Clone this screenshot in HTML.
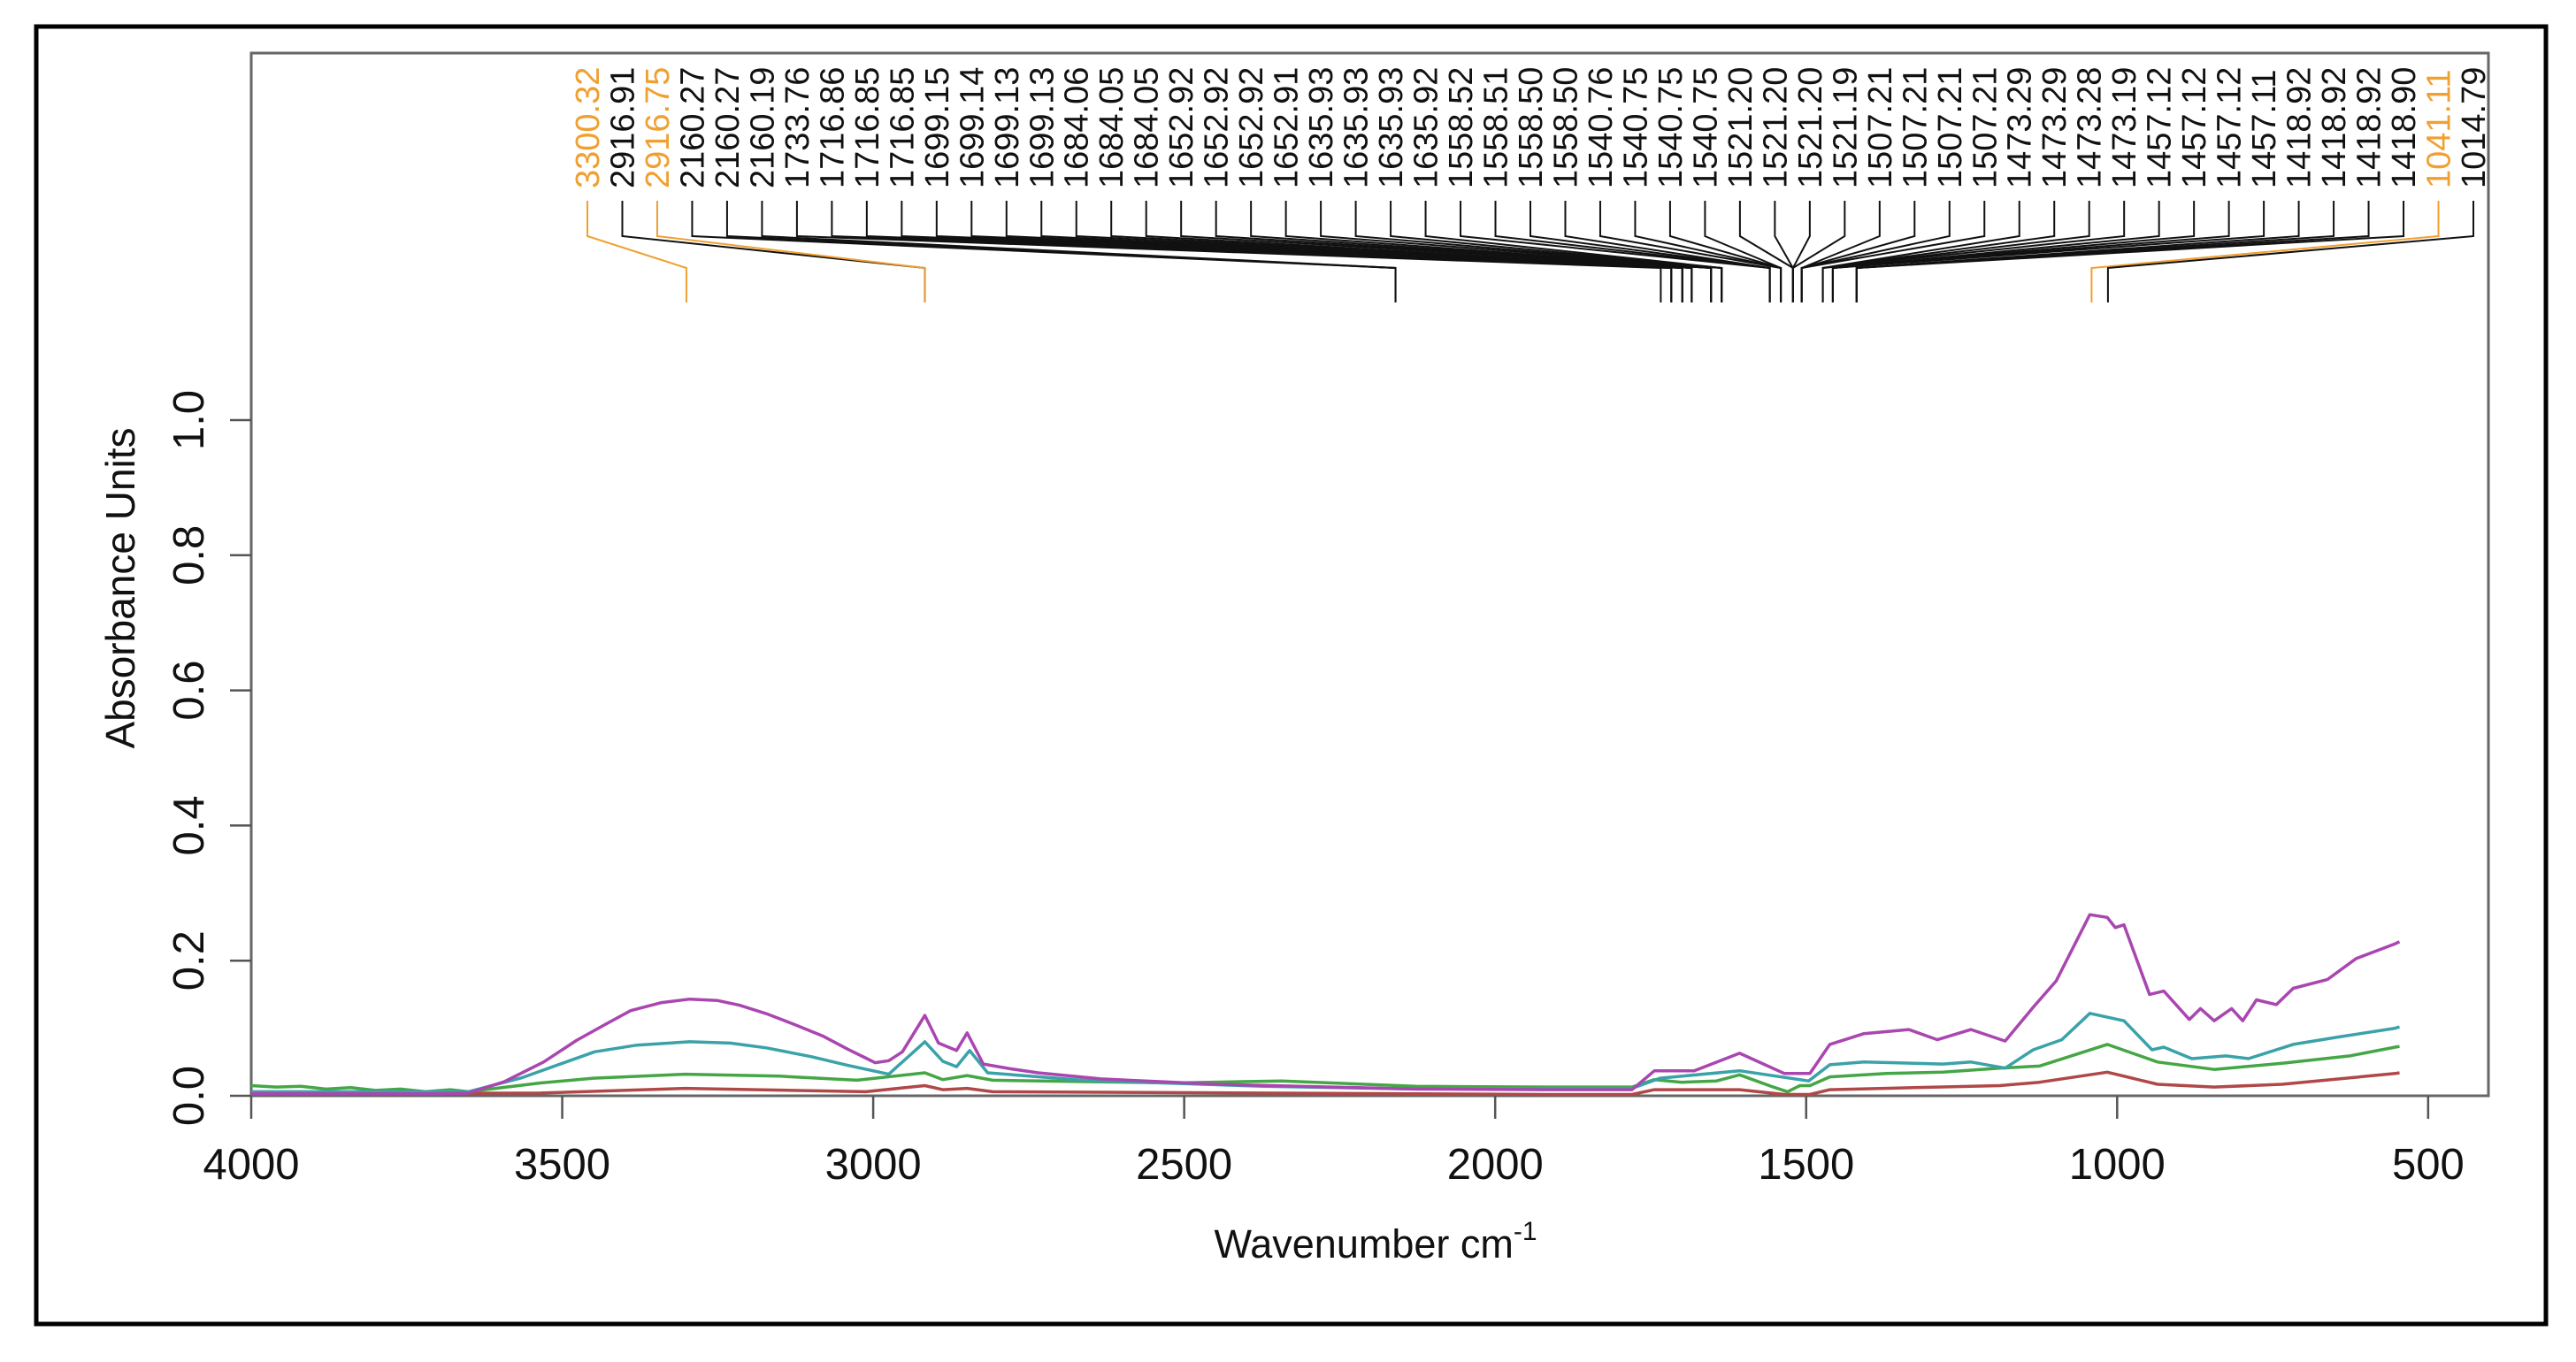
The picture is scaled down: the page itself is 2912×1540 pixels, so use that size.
<!DOCTYPE html>
<html><head><meta charset="utf-8"><style>
html,body{margin:0;padding:0;background:#fff;}
svg{display:block;font-family:"Liberation Sans",Arial,sans-serif;}
</style></head><body>
<svg id="chart" width="2912" height="1540" viewBox="0 0 2912 1540">
<rect x="41" y="30" width="2837" height="1467" fill="none" stroke="#000" stroke-width="5"/>
<g id="plot"></g>
</svg>
<script>
// ---- data ----
const peakLabels = ["3300.32","2916.91","2916.75","2160.27","2160.27","2160.19","1733.76","1716.86","1716.85","1716.85","1699.15","1699.14","1699.13","1699.13","1684.06","1684.05","1684.05","1652.92","1652.92","1652.92","1652.91","1635.93","1635.93","1635.93","1635.92","1558.52","1558.51","1558.50","1558.50","1540.76","1540.75","1540.75","1540.75","1521.20","1521.20","1521.20","1521.19","1507.21","1507.21","1507.21","1507.21","1473.29","1473.29","1473.28","1473.19","1457.12","1457.12","1457.12","1457.11","1418.92","1418.92","1418.92","1418.90","1041.11","1014.79"];
const highlightedPeaks = ["3300.32","2916.75","1041.11"];
const xTicks = [4000,3500,3000,2500,2000,1500,1000,500];
const yTicks = [0.0,0.2,0.4,0.6,0.8,1.0];

const purpleWn = [4000,3900,3800,3700,3651,3593,3530,3477,3430,3390,3340,3295,3250,3215,3170,3128,3080,3041,3010,2997,2975,2953,2917,2895,2866,2849,2823,2780,2735,2634,2445,2128,1916,1780,1744,1680,1607,1535,1494,1462,1407,1335,1289,1235,1180,1135,1098,1044,1016,1003,989,948,925,884,866,844,816,798,776,744,717,662,616,553,546];
const purpleAbs = [0.003,0.003,0.003,0.003,0.004,0.021,0.050,0.082,0.106,0.126,0.138,0.143,0.141,0.134,0.121,0.106,0.088,0.069,0.055,0.049,0.052,0.065,0.119,0.078,0.067,0.093,0.047,0.040,0.034,0.025,0.017,0.010,0.009,0.009,0.037,0.037,0.063,0.033,0.033,0.076,0.092,0.098,0.083,0.098,0.081,0.131,0.170,0.268,0.264,0.249,0.253,0.150,0.155,0.113,0.129,0.111,0.129,0.111,0.142,0.135,0.159,0.172,0.203,0.225,0.228];

const tealWn = [4000,3800,3651,3564,3500,3448,3380,3295,3230,3172,3100,3041,2975,2917,2888,2866,2845,2816,2663,2372,2128,1916,1780,1735,1607,1496,1462,1407,1280,1235,1180,1135,1089,1044,989,944,925,880,825,789,717,644,553,546];
const tealAbs = [0.006,0.006,0.006,0.027,0.048,0.065,0.075,0.080,0.078,0.071,0.058,0.045,0.032,0.080,0.051,0.043,0.067,0.034,0.023,0.014,0.010,0.011,0.011,0.026,0.037,0.022,0.046,0.050,0.047,0.050,0.041,0.068,0.083,0.122,0.111,0.068,0.072,0.055,0.059,0.055,0.076,0.087,0.100,0.102];

const greenWn = [4000,3960,3920,3880,3840,3800,3760,3720,3680,3651,3535,3450,3302,3150,3026,2917,2888,2849,2808,2517,2343,2128,1916,1780,1744,1700,1644,1607,1553,1530,1510,1494,1462,1371,1280,1189,1125,1016,935,844,735,626,553,546];
const greenAbs = [0.015,0.013,0.014,0.010,0.012,0.008,0.010,0.006,0.009,0.006,0.019,0.026,0.032,0.029,0.023,0.034,0.024,0.030,0.023,0.019,0.022,0.014,0.013,0.013,0.024,0.020,0.022,0.031,0.013,0.006,0.015,0.015,0.028,0.033,0.035,0.041,0.044,0.076,0.050,0.039,0.048,0.059,0.072,0.073];

const redWn = [4000,3535,3302,3012,2917,2888,2849,2808,2128,1916,1780,1744,1607,1535,1494,1462,1189,1125,1016,935,844,735,553,546];
const redAbs = [0.003,0.004,0.011,0.006,0.015,0.009,0.011,0.006,0.003,0.002,0.002,0.009,0.009,0.002,0.002,0.009,0.015,0.020,0.035,0.017,0.013,0.017,0.033,0.034];

// ---- layout ----
const X0 = 284, X1 = 2813, Y0 = 60, Y1 = 1239;
function xs(w){ return X0 + (4000 - w) * 0.7031; }
function ys(a){ return Y1 - a * 764; }
const NS = "http://www.w3.org/2000/svg";
const g = document.getElementById('plot');
function mk(tag, attrs, parent){
  const e = document.createElementNS(NS, tag);
  for (const k in attrs) e.setAttribute(k, attrs[k]);
  (parent || g).appendChild(e);
  return e;
}

const box = mk('rect', {x:X0, y:Y0, width:X1-X0, height:Y1-Y0, fill:'none', stroke:'#666', 'stroke-width':3});



const xAxis = mk('g', {});


xTicks.forEach(v => {
  const t = mk('line', {x1:xs(v), x2:xs(v), y1:Y1, y2:Y1+26, stroke:'#555', 'stroke-width':2.5}, xAxis);
  
  
  const l = mk('text', {x:xs(v), y:1333, 'text-anchor':'middle', 'font-size':49, fill:'#111'}, xAxis);
  l.textContent = v;
  
  
});

const yAxis = mk('g', {});


yTicks.forEach(v => {
  const t = mk('line', {x1:X0-24, x2:X0, y1:ys(v), y2:ys(v), stroke:'#555', 'stroke-width':2.5}, yAxis);
  
  
  const l = mk('text', {x:0, y:0, 'text-anchor':'middle', 'font-size':49, fill:'#111',
    transform:`translate(230,${ys(v)}) rotate(-90)`}, yAxis);
  l.textContent = v.toFixed(1);
  
  
});

const yt = mk('text', {x:0, y:0, 'text-anchor':'middle', 'font-size':46, fill:'#111', transform:'translate(152,665) rotate(-90)'});
yt.textContent = 'Absorbance Units';


const xt = mk('text', {x:1555, y:1422, 'text-anchor':'middle', 'font-size':45, fill:'#111'});
xt.innerHTML = 'Wavenumber cm<tspan dy="-20" font-size="30">-1</tspan>';



function drawSeries(wn, ab, color, name){
  const d = wn.map((w,i) => (i ? 'L' : 'M') + xs(w).toFixed(1) + ',' + ys(ab[i]).toFixed(1)).join(' ');
  const p = mk('path', {d:d, fill:'none', stroke:color, 'stroke-width':3.5, 'stroke-linejoin':'round'});
  
  
}
drawSeries(redWn, redAbs, '#b04848', 'series-red');
drawSeries(greenWn, greenAbs, '#45a645', 'series-green');
drawSeries(tealWn, tealAbs, '#3aa2a8', 'series-teal');
drawSeries(purpleWn, purpleAbs, '#a946b0', 'series-purple');

const peaks = mk('g', {});


const firstX = 664, lastX = 2796;
const step = (lastX - firstX) / (peakLabels.length - 1);
peakLabels.forEach((lab, i) => {
  const lx = firstX + i * step;
  const px = xs(parseFloat(lab));
  const col = highlightedPeaks.includes(lab) ? '#f0a030' : '#111';
  const ln = mk('polyline', {points:`${lx},227 ${lx},267 ${px},303 ${px},342`, fill:'none', stroke:col, 'stroke-width':2}, peaks);
  
  
  const t = mk('text', {x:0, y:0, 'font-size':38, fill:col, transform:`translate(${lx+13},213) rotate(-90)`}, peaks);
  t.textContent = lab;
  
  
});
</script>
</body></html>
